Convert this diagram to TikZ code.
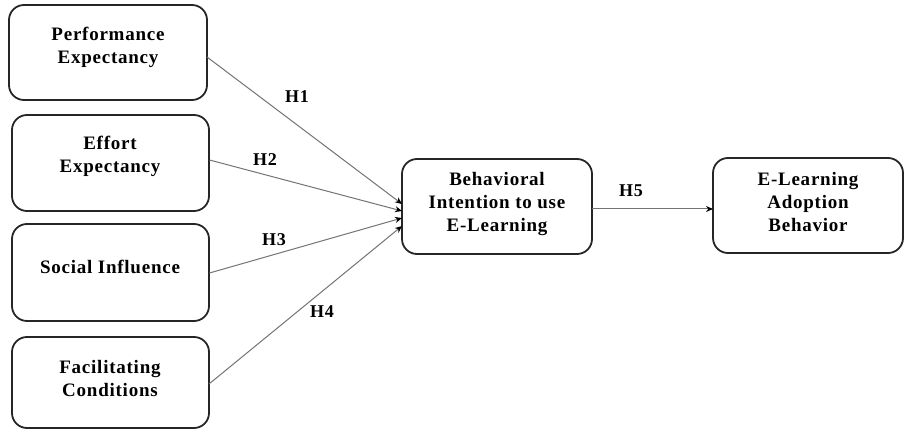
\documentclass[tikz,border=0pt]{standalone}
\usepackage{fontspec}
\setmainfont{Liberation Serif}[LetterSpace=4]
\usetikzlibrary{arrows.meta}
\begin{document}
\begin{tikzpicture}[x=1pt,y=-1pt,
  box/.style={draw=black!85, line width=1.8pt, rounded corners=15pt},
  lbl/.style={font=\fontsize{19}{23}\selectfont\bfseries, align=center, inner sep=0pt},
  hyp/.style={font=\fontsize{18}{21}\selectfont\bfseries, inner sep=0pt},
  conn/.style={draw=black!55, line width=1pt, -{Stealth[length=7pt,width=6pt,color=black]}}]
\useasboundingbox (0,0) rectangle (904,430);
% boxes
\node[box, minimum width=198pt, minimum height=95pt] (pe) at (108,52.5) {};
\node[box, minimum width=197pt, minimum height=96pt] (ee) at (110.5,163) {};
\node[box, minimum width=197pt, minimum height=97pt] (si) at (110.5,272.5) {};
\node[box, minimum width=197pt, minimum height=91pt] (fc) at (110.5,382.5) {};
\node[box, minimum width=190pt, minimum height=95pt] (bi) at (497,206.5) {};
\node[box, minimum width=190pt, minimum height=95pt] (ea) at (808,205.5) {};
% texts
\node[lbl] (tpe) at (108,47) {Performance\\Expectancy};
\node[lbl] (tee) at (110,156) {Effort\\Expectancy};
\node[lbl] (tsi) at (110,267) {Social Influence};
\node[lbl] (tfc) at (110,378) {Facilitating\\Conditions};
\node[lbl] (tbi) at (497,204) {Behavioral\\Intention to use\\E-Learning};
\node[lbl] (tea) at (808,202) {E-Learning\\Adoption\\Behavior};
% anchors for connectors
\coordinate (s1) at (207,57);
\coordinate (s2) at (209.5,160);
\coordinate (s3) at (209.5,273);
\coordinate (s4) at (209,384);
\coordinate (e1) at (402,204);
\coordinate (e2) at (402,211);
\coordinate (e3) at (402,218);
\coordinate (e4) at (402,226);
\coordinate (s5) at (592,209);
\coordinate (e5) at (713,209);
\draw[conn] (s1) -- (e1);
\draw[conn] (s2) -- (e2);
\draw[conn] (s3) -- (e3);
\draw[conn] (s4) -- (e4);
\draw[conn] (s5) -- (e5);
% hypothesis labels
\node[hyp] (h1) at (297,97) {H1};
\node[hyp] (h2) at (265,160) {H2};
\node[hyp] (h3) at (274,240) {H3};
\node[hyp] (h4) at (322,312) {H4};
\node[hyp] (h5) at (631,191) {H5};
\end{tikzpicture}
\end{document}
